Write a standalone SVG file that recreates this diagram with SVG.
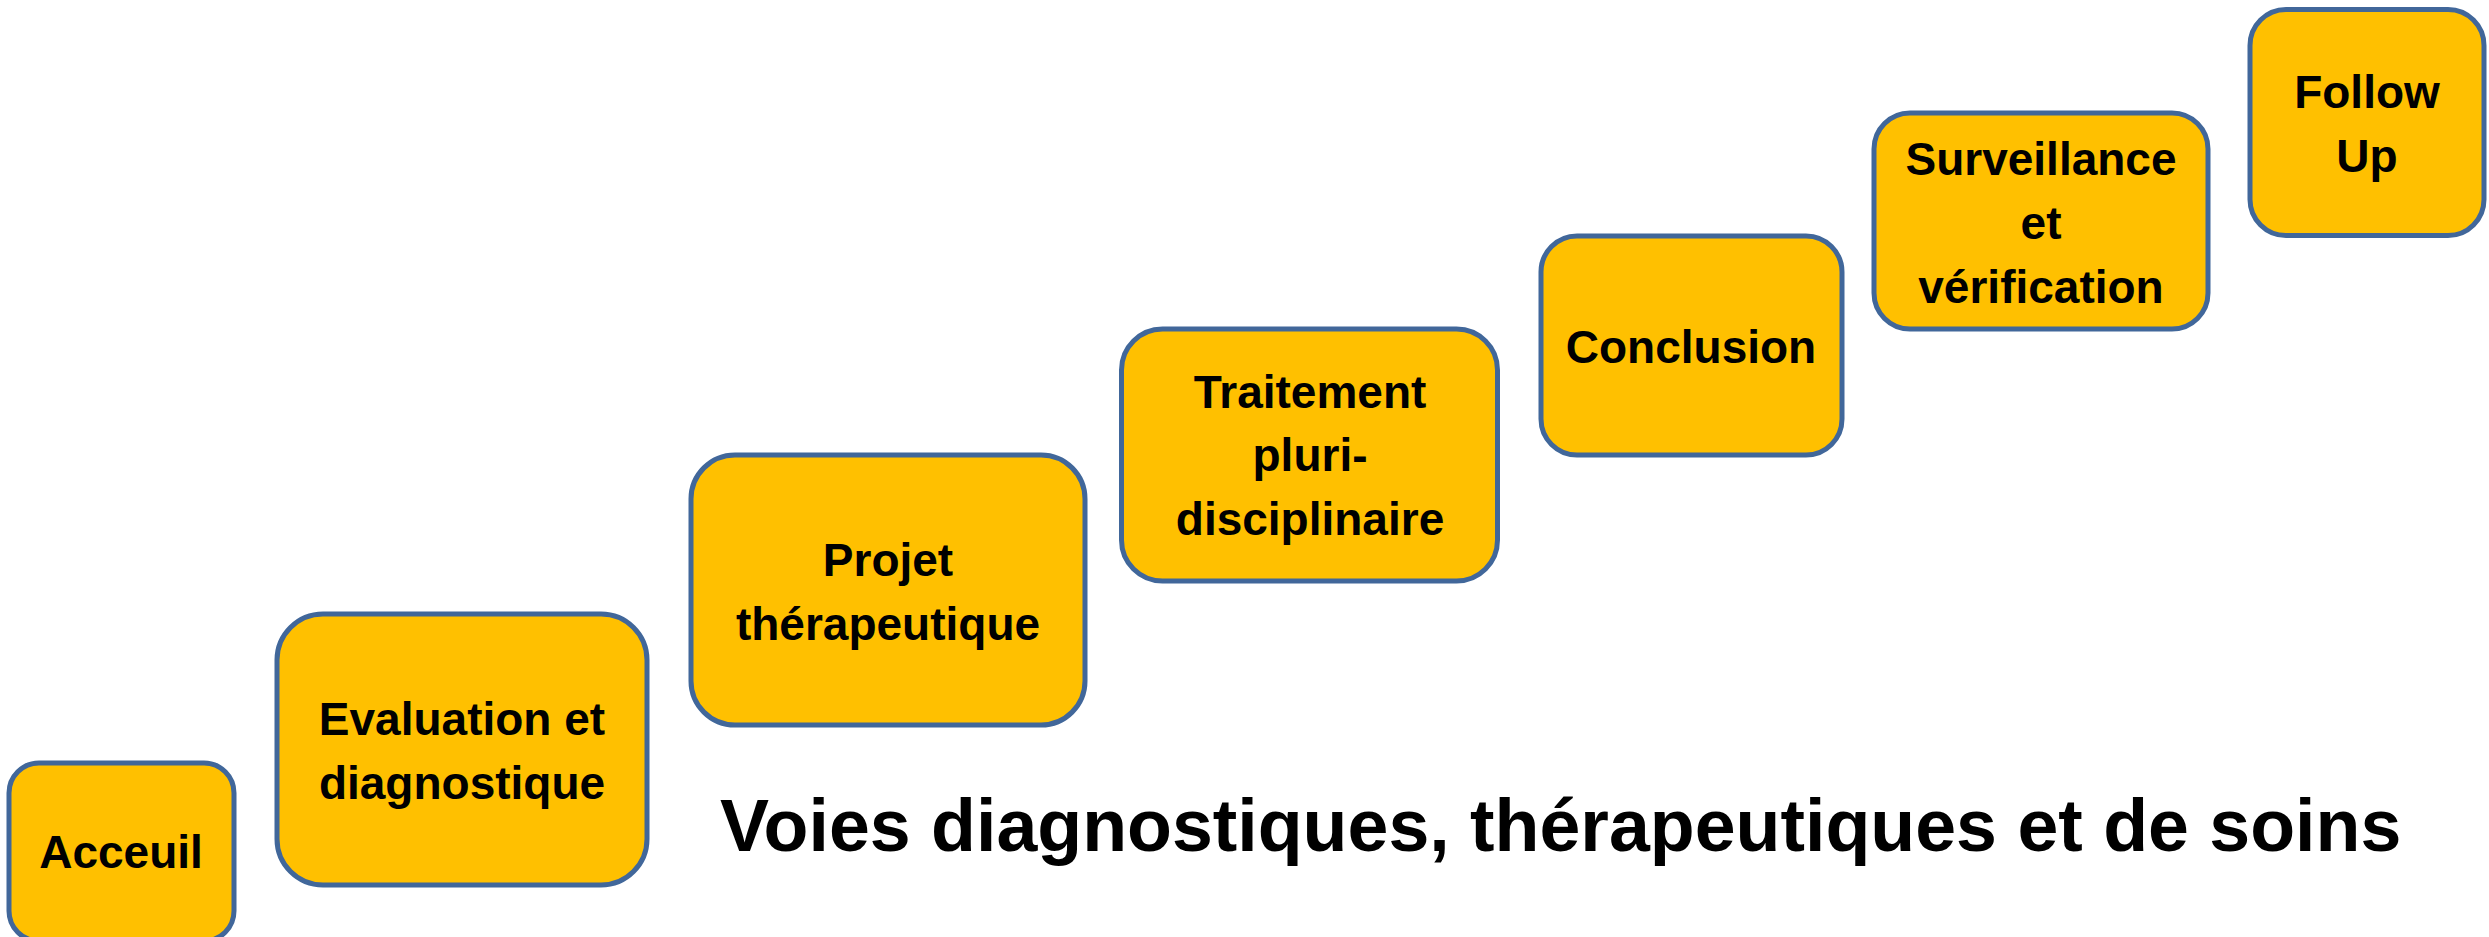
<svg xmlns="http://www.w3.org/2000/svg" width="2489" height="937" viewBox="0 0 2489 937">
<style>
.box{fill:#FFC000;stroke:#41679A;stroke-width:5}
.lbl{font-family:"Liberation Sans",Arial,sans-serif;font-weight:bold;font-size:46px;fill:#000;text-anchor:middle}
.title{font-family:"Liberation Sans",Arial,sans-serif;font-weight:bold;font-size:73.5px;fill:#000}
</style>
<rect width="2489" height="937" fill="#fff"/>
<g id="connectors"></g>
<g id="acceuil">
<rect class="box" x="9" y="763" width="225" height="178" rx="30"/>
<text class="lbl" x="121" y="868">Acceuil</text>
</g>
<g id="evaluation">
<rect class="box" x="277" y="614" width="370" height="271" rx="46"/>
<text class="lbl" x="462" y="735">Evaluation et</text>
<text class="lbl" x="462" y="799">diagnostique</text>
</g>
<g id="projet">
<rect class="box" x="691" y="455" width="394" height="270" rx="44"/>
<text class="lbl" x="888" y="576">Projet</text>
<text class="lbl" x="888" y="640">thérapeutique</text>
</g>
<g id="traitement">
<rect class="box" x="1121.5" y="329" width="376" height="252" rx="41"/>
<text class="lbl" x="1310" y="408">Traitement</text>
<text class="lbl" x="1310" y="471">pluri-</text>
<text class="lbl" x="1310" y="535">disciplinaire</text>
</g>
<g id="conclusion">
<rect class="box" x="1541" y="236" width="301" height="219" rx="36"/>
<text class="lbl" x="1691" y="363">Conclusion</text>
</g>
<g id="surveillance">
<rect class="box" x="1874" y="113" width="334" height="216" rx="36"/>
<text class="lbl" x="2041" y="175">Surveillance</text>
<text class="lbl" x="2041" y="239">et</text>
<text class="lbl" x="2041" y="303">vérification</text>
</g>
<g id="followup">
<rect class="box" x="2250" y="9.5" width="234" height="226" rx="36"/>
<text class="lbl" x="2367" y="108">Follow</text>
<text class="lbl" x="2367" y="172">Up</text>
</g>
<text class="title" x="720" y="851">Voies diagnostiques, thérapeutiques et de soins</text>
</svg>
